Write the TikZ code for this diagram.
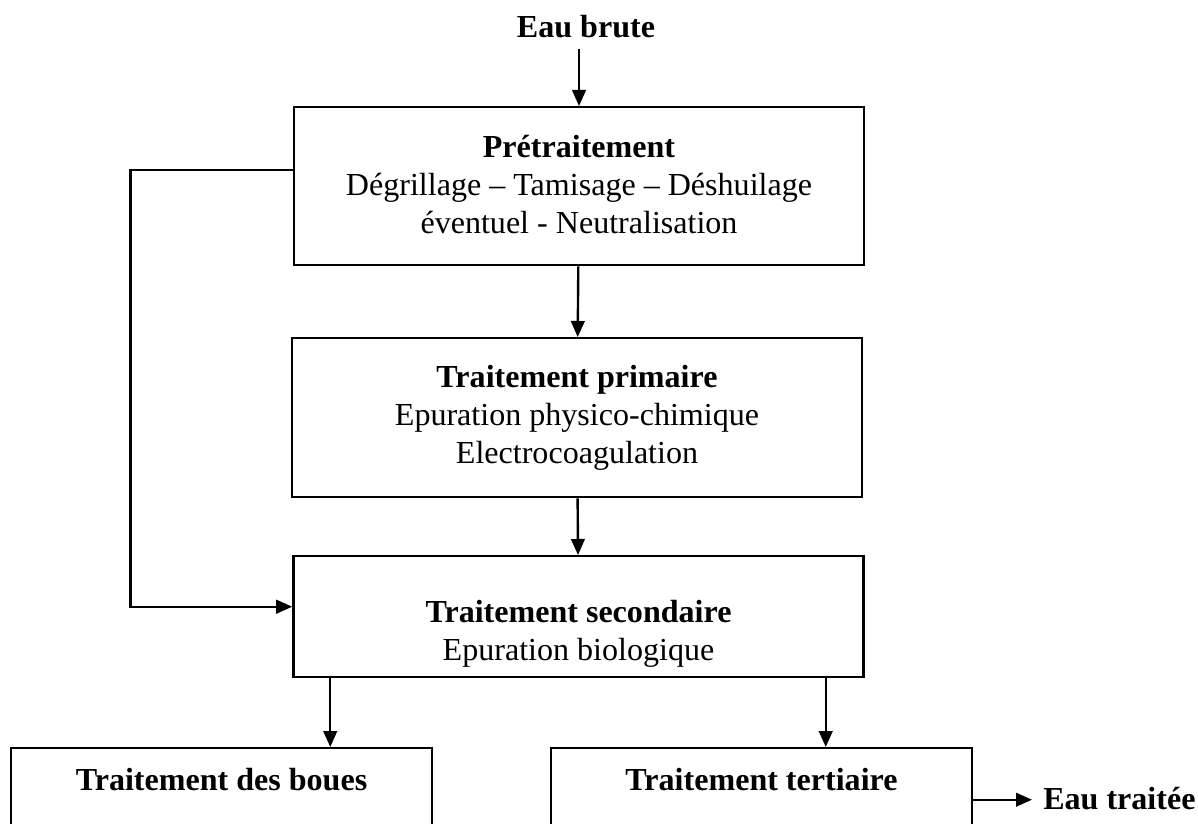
\documentclass[tikz,border=0pt]{standalone}
\usepackage{fontspec}
\setmainfont{Liberation Serif}
\usetikzlibrary{arrows.meta}

\tikzset{
  stagebox/.style={draw, line width=1.7pt, anchor=north, align=center, inner ysep=0pt,
    font=\fontsize{22.8}{27}\selectfont},
  flowarrow/.style={line width=1.7pt, -{Triangle[length=0.4cm,width=0.34cm]}},
  endlabel/.style={inner sep=0.275cm, font=\fontsize{22.8}{27}\selectfont\bfseries}
}

\begin{document}
\begin{tikzpicture}[x=0.025cm, y=-0.025cm]

\path[use as bounding box, clip] (0,0) rectangle (1198,823);

% chaine de traitement
\node[endlabel, anchor=base] (brute) at (586,37) {Eau brute};
\node[stagebox, minimum width=14.25cm, text height=3.15cm, text depth=0.8cm] (pre) at (579,106)
  {\textbf{Prétraitement}\\Dégrillage – Tamisage – Déshuilage\\éventuel - Neutralisation};
\node[stagebox, minimum width=14.25cm, text height=3.125cm, text depth=0.85cm] (prim) at (577,337)
  {\textbf{Traitement primaire}\\Epuration physico-chimique\\Electrocoagulation};
\node[stagebox, minimum width=14.25cm, text height=2.6cm, text depth=0.425cm] (sec) at (578.5,555)
  {\textbf{Traitement secondaire}\\Epuration biologique};
\node[stagebox, minimum width=10.525cm, text height=1.05cm, text depth=1.525cm] (boues) at (221.5,747)
  {\textbf{Traitement des boues}};
\node[stagebox, minimum width=10.525cm, text height=1.05cm, text depth=1.525cm] (tert) at (761.5,747)
  {\textbf{Traitement tertiaire}};
\node[endlabel, anchor=base west] (traitee) at (1032,809) {Eau traitée};

% fleches
\draw[flowarrow] (brute.south -| pre.north) -- (pre.north);
\draw[flowarrow] (pre) -- (prim);
\draw[flowarrow] (prim) -- (sec);
\draw[flowarrow] ([yshift=0.4cm]pre.west) -- ++(-4.05cm,0) |- ([yshift=0.25cm]sec.west);
\draw[flowarrow] ([xshift=0.95cm]sec.south west) -- ([xshift=0.95cm]sec.south west |- boues.north);
\draw[flowarrow] ([xshift=-0.975cm]sec.south east) -- ([xshift=-0.975cm]sec.south east |- tert.north);
\draw[flowarrow] (tert.east) -- (tert.east -| traitee.west);

\end{tikzpicture}
\end{document}
